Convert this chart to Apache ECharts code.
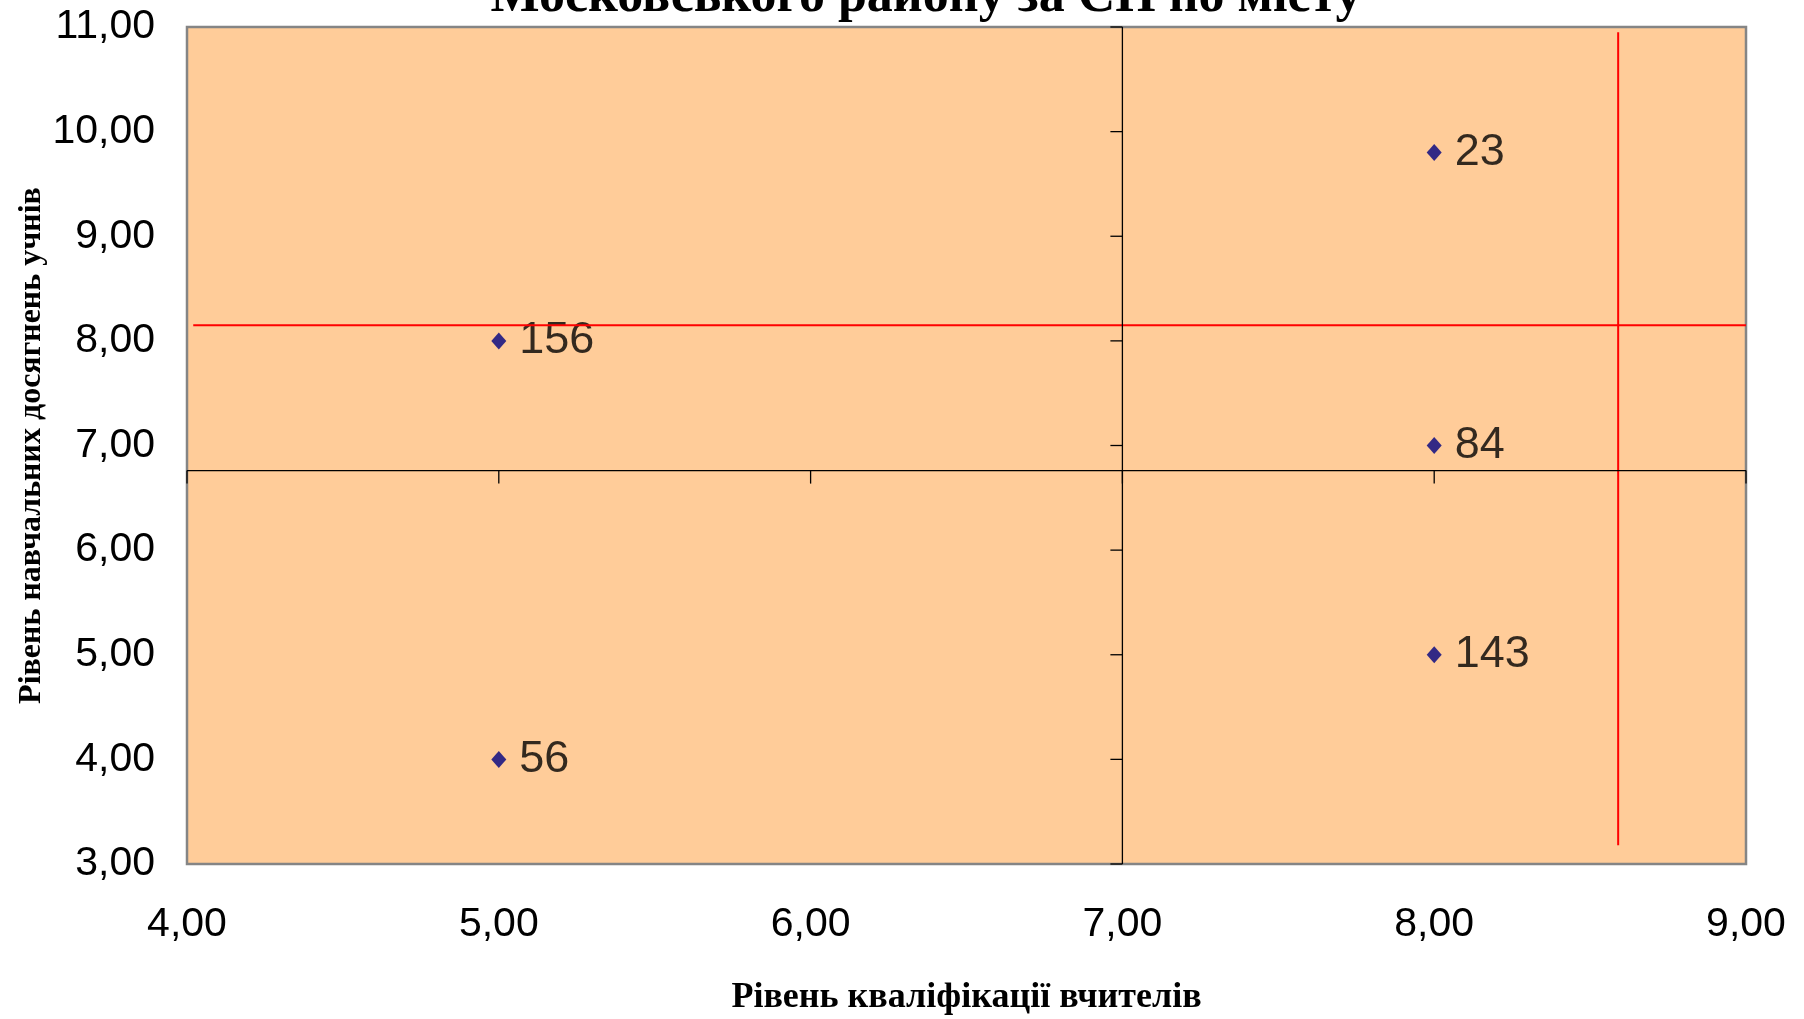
<!DOCTYPE html>
<html>
<head>
<meta charset="utf-8">
<script src="https://cdn.jsdelivr.net/npm/echarts@6/dist/echarts.min.js"></script>
<style>
html,body{margin:0;padding:0;background:#fff;}
#chart{width:1804px;height:1019px;}
</style>
</head>
<body>
<div id="chart"></div>
<script>
// ---- data ----
const pointX = [5, 5, 8, 8, 8];
const pointY = [8, 4, 9.8, 7, 5];
const pointLabels = ['156', '56', '23', '84', '143'];

const xTicks = [4, 5, 6, 7, 8, 9];
const xTickLabels = ['4,00', '5,00', '6,00', '7,00', '8,00', '9,00'];
const yTicks = [3, 4, 5, 6, 7, 8, 9, 10, 11];
const yTickLabels = ['3,00', '4,00', '5,00', '6,00', '7,00', '8,00', '9,00', '10,00', '11,00'];

// axes crossing point (Excel "axis crosses at")
const crossX = [7];
const crossY = [6.76];

// red mean lines
const meanHX = [4.02, 9];
const meanHY = [8.15, 8.15];
const meanVX = [8.59, 8.59];
const meanVY = [10.95, 3.18];

const titleText = 'Московського району за СП по місту';
const xName = 'Рівень кваліфікації вчителів';
const yName = 'Рівень навчальних досягнень учнів';

// ---- chart ----
const sans = "'Liberation Sans', Arial, sans-serif";
const serif = "'Liberation Serif', 'Times New Roman', serif";

const chart = echarts.init(document.getElementById('chart'), null, {renderer: 'canvas'});

const scatterData = pointX.map((x, i) => ({value: [x, pointY[i]], name: pointLabels[i]}));

const option = {
  backgroundColor: '#ffffff',
  animation: false,
  graphic: [{
    type: 'text',
    x: 926,
    y: 24,
    style: {
      text: titleText,
      fill: '#000',
      font: "bold 52px " + serif,
      textAlign: 'center',
      textVerticalAlign: 'bottom'
    }
  }],
  grid: {
    left: 187, top: 27, right: 58, bottom: 155,
    containLabel: false,
    outerBoundsMode: 'none',
    show: true,
    backgroundColor: '#FFCC99',
    borderColor: '#858585',
    borderWidth: 2.5
  },
  xAxis: {
    type: 'value',
    min: xTicks[0], max: xTicks[xTicks.length - 1], interval: 1,
    axisLine: {show: false}, axisTick: {show: false}, splitLine: {show: false},
    axisLabel: {
      margin: 40, fontSize: 41, color: '#000', fontFamily: sans,
      formatter: (v) => xTickLabels[xTicks.indexOf(v)]
    },
    name: xName, nameLocation: 'middle', nameGap: 116, nameMoveOverlap: false,
    nameTextStyle: {fontFamily: serif, fontWeight: 'bold', fontSize: 36, color: '#000'}
  },
  yAxis: {
    type: 'value',
    min: yTicks[0], max: yTicks[yTicks.length - 1], interval: 1,
    axisLine: {show: false}, axisTick: {show: false}, splitLine: {show: false},
    axisLabel: {
      margin: 32, fontSize: 41, color: '#000', fontFamily: sans,
      formatter: (v) => yTickLabels[yTicks.indexOf(v)]
    },
    name: yName, nameLocation: 'middle', nameGap: 139, nameMoveOverlap: false,
    nameTextStyle: {fontFamily: serif, fontWeight: 'bold', fontSize: 32, color: '#000'}
  },
  series: [
    {
      type: 'line',
      data: meanHX.map((x, i) => [x, meanHY[i]]),
      symbol: 'none',
      lineStyle: {color: '#FF0000', width: 2},
      z: 4, silent: true
    },
    {
      type: 'line',
      data: meanVX.map((x, i) => [x, meanVY[i]]),
      symbol: 'none',
      lineStyle: {color: '#FF0000', width: 2},
      z: 4, silent: true
    },
    {
      type: 'custom',
      data: crossX.map((x, i) => [x, crossY[i]]),
      silent: true,
      z: 5,
      renderItem: function (params, api) {
        const cx = api.value(0), cy = api.value(1);
        const c = api.coord([cx, cy]);
        const xl = api.coord([xTicks[0], cy]);
        const xr = api.coord([xTicks[xTicks.length - 1], cy]);
        const yb = api.coord([cx, yTicks[0]]);
        const yt = api.coord([cx, yTicks[yTicks.length - 1]]);
        const st = {stroke: '#000', lineWidth: 1.3};
        const children = [
          {type: 'line', shape: {x1: xl[0], y1: c[1], x2: xr[0], y2: c[1]}, style: st},
          {type: 'line', shape: {x1: c[0], y1: yb[1], x2: c[0], y2: yt[1]}, style: st}
        ];
        yTicks.forEach(v => {
          const p = api.coord([cx, v]);
          children.push({type: 'line', shape: {x1: p[0] - 12, y1: p[1], x2: p[0], y2: p[1]}, style: st});
        });
        xTicks.forEach(v => {
          const p = api.coord([v, cy]);
          children.push({type: 'line', shape: {x1: p[0], y1: p[1], x2: p[0], y2: p[1] + 13}, style: st});
        });
        return {type: 'group', children: children};
      }
    },
    {
      type: 'scatter',
      data: scatterData,
      symbol: 'diamond',
      symbolSize: [15, 17],
      itemStyle: {color: '#000080'},
      z: 3,
      label: {
        show: true,
        position: 'right',
        distance: 13,
        formatter: (p) => p.name,
        fontSize: 45,
        fontFamily: sans,
        color: '#000'
      }
    }
  ]
};

chart.setOption(option);
</script>
</body>
</html>
